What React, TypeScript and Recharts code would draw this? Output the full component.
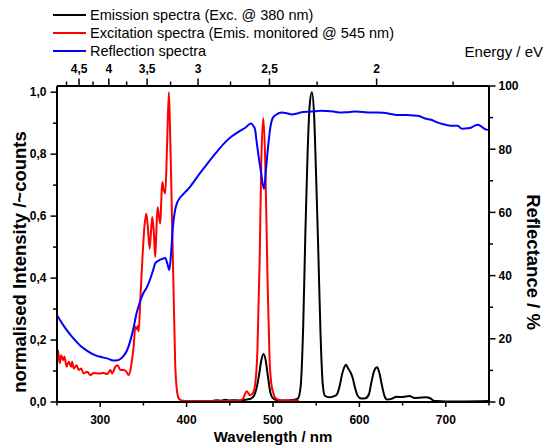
import React from 'react';
import { LineChart, Line, XAxis, YAxis } from 'recharts';

const FONT = '"Liberation Sans", Arial, Helvetica, sans-serif';
const EV_NM = 1239.84;

// ---- tick values ----
const WAVELENGTH_TICKS = [250, 300, 350, 400, 450, 500, 550, 600, 650, 700, 750];
const INTENSITY_TICKS = [0, 0.1, 0.2, 0.3, 0.4, 0.5, 0.6, 0.7, 0.8, 0.9, 1.0];
const REFLECTANCE_TICKS = [0, 10, 20, 30, 40, 50, 60, 70, 80, 90, 100];
const ENERGY_TICKS = [4.75, 4.5, 4.25, 4, 3.75, 3.5, 3.25, 3, 2.75, 2.5, 2.25, 2, 1.75];

// ---- series: [wavelength nm, value] ----
const emission: [number, number][] = [
  [430, 0.003], [435, 0.006], [440, 0.004], [445, 0.007], [450, 0.005], [455, 0.006],
  [460, 0.005], [465, 0.006], [470, 0.008], [475, 0.012], [478, 0.02], [481, 0.045],
  [484, 0.09], [486.5, 0.135], [489, 0.155], [491.5, 0.135], [494, 0.085], [497, 0.03],
  [500, 0.012], [505, 0.006], [515, 0.005], [525, 0.007], [529, 0.012], [532, 0.05],
  [535, 0.25], [537.5, 0.55], [540, 0.8], [542.5, 0.96], [545, 1.0], [547.5, 0.93],
  [550, 0.72], [552.3, 0.5], [555, 0.22], [557.5, 0.06], [560, 0.02], [565, 0.015],
  [570, 0.018], [574, 0.025], [577, 0.05], [580, 0.09], [583, 0.115], [584.5, 0.12],
  [587, 0.108], [589.5, 0.097], [592, 0.08], [595, 0.045], [598, 0.02], [602, 0.011],
  [607, 0.012], [611, 0.025], [614, 0.065], [617, 0.1], [620.5, 0.112], [623, 0.095],
  [626, 0.055], [629, 0.02], [632, 0.008], [637, 0.01], [643, 0.017], [650, 0.016],
  [658, 0.019], [664, 0.013], [670, 0.014], [677, 0.015], [682, 0.012], [686, 0.004],
  [690, 0.003], [700, 0.002], [720, 0.002], [750, 0.003],
];

const excitation: [number, number][] = [
  [250, 0.114], [251, 0.168], [253.3, 0.125], [254.8, 0.151], [257.1, 0.135], [258.7, 0.146],
  [261, 0.114], [263.7, 0.13], [266.4, 0.114], [267.5, 0.13], [269.4, 0.108], [272.5, 0.119],
  [275.2, 0.103], [277.9, 0.108], [281, 0.092], [284.9, 0.098], [288.7, 0.087], [292.5, 0.094],
  [298.3, 0.092], [304, 0.094], [308, 0.09], [311.8, 0.103], [313.7, 0.092], [317.6, 0.114],
  [320.2, 0.119], [323.3, 0.103], [327.1, 0.103], [330.3, 0.098], [332.9, 0.087], [335.7, 0.114],
  [337, 0.14], [338.7, 0.178], [340.6, 0.243], [342.5, 0.235], [343.5, 0.245], [344.5, 0.228],
  [346.4, 0.33], [349, 0.47], [351, 0.56], [353.3, 0.608], [355, 0.57], [357.2, 0.495],
  [358.8, 0.55], [360.3, 0.597], [362, 0.55], [363.7, 0.468], [365, 0.55], [366.4, 0.629],
  [368, 0.6], [369.5, 0.576], [370.7, 0.65], [371.8, 0.71], [373.5, 0.685], [375.3, 0.673],
  [377.3, 0.82], [379.5, 1.0], [381, 0.86], [383, 0.607], [385, 0.35], [386.8, 0.125],
  [388.5, 0.045], [390.7, 0.013], [393, 0.006], [396, 0.004], [400, 0.003], [420, 0.003],
  [440, 0.003], [460, 0.004], [465, 0.01], [469.6, 0.035], [473.4, 0.022], [477, 0.03],
  [479.5, 0.06], [482, 0.17], [484.5, 0.45], [486.5, 0.78], [488.8, 0.917], [491, 0.78],
  [493.5, 0.42], [496, 0.14], [498, 0.06], [500.3, 0.03], [503, 0.012], [508, 0.006],
  [515, 0.005], [530, 0.005],
];

const reflection: [number, number][] = [
  [250, 27.5], [254, 25.7], [258, 24], [262, 22.5], [270, 19.8], [277, 17.8], [285, 16.2],
  [292.5, 15], [300, 14.3], [308, 13.8], [315.6, 13.1], [320, 13.2], [323.3, 13.6],
  [327, 14.6], [331, 16.3], [335, 19.5], [338.7, 23.6], [342, 28], [346.4, 32], [350, 34.5],
  [354, 36.3], [358, 39], [361, 41.5], [363.7, 43.9], [368, 44.8], [372, 45.3], [375.3, 45.6],
  [378, 43.5], [380, 41.8], [382, 47], [384, 55], [386.5, 60.5], [389, 63], [392, 64.5],
  [397, 66], [404, 68.1], [413, 71.5], [423.4, 75.2], [433, 78.5], [442.6, 81.6], [452, 84],
  [461.8, 85.8], [468, 86.8], [474.2, 88.1], [477, 87.5], [479.2, 86.3], [481, 82.5],
  [483, 78.4], [486, 73], [489.6, 67.4], [492, 74], [494.6, 81.6], [497, 87], [499.6, 89.8],
  [504, 91], [510, 91.6], [516, 91.4], [521.6, 91], [528, 91.3], [535, 91.8], [545, 91.9],
  [555, 92.2], [562, 92.1], [570, 91.9], [578, 91.6], [585, 91.7], [595, 91.9], [604, 91.8],
  [612, 91.6], [620, 91.6], [628, 91.5], [635, 91.2], [641, 90.9], [647, 90.8], [655, 90.8],
  [662, 90.7], [669, 90.5], [676, 89.7], [683, 89.3], [690, 88.5], [696, 88], [702, 87.6],
  [708, 87.4], [714, 87.4], [717, 86.7], [720, 86.5], [725, 86.6], [729, 86.8], [733, 87.4],
  [737, 87.7], [741, 87.2], [744, 86.6], [747, 86.2], [750, 86.1],
];

const toRows = (pts: [number, number][]) => pts.map(([nm, v]) => ({ nm, v }));
const emissionRows = toRows(emission);
const excitationRows = toRows(excitation);
const reflectionRows = toRows(reflection);
const energyTickNm = ENERGY_TICKS.map((e) => EV_NM / e);

const labelStyle = {
  fontFamily: FONT,
  fontWeight: 'bold' as const,
  fontSize: 12,
  fill: '#000',
};

const BottomTick = (props: any) => {
  const { x, y, payload } = props;
  const v = payload.value;
  const major = v % 100 === 0;
  return (
    <g>
      <line x1={x} y1={y} x2={x} y2={y + (major ? 5 : 3.5)} stroke="#000" strokeWidth={1.5} />
      {major && (
        <text x={x} y={y + 21.5} textAnchor="middle" {...labelStyle}>
          {v}
        </text>
      )}
    </g>
  );
};

const TopTick = (props: any) => {
  const { x, y, payload } = props;
  const e = EV_NM / payload.value;
  const q = Math.round(e * 4);
  const major = q % 2 === 0;
  const label = String(q / 4).replace('.', ',');
  return (
    <g>
      <line x1={x} y1={y} x2={x} y2={y - (major ? 7.5 : 4.5)} stroke="#000" strokeWidth={1.5} />
      {major && (
        <text x={x} y={y - 13.5} textAnchor="middle" {...labelStyle}>
          {label}
        </text>
      )}
    </g>
  );
};

const LeftTick = (props: any) => {
  const { x, y, payload } = props;
  const k = Math.round(payload.value * 10);
  const major = k % 2 === 0;
  return (
    <g>
      <line x1={x} y1={y} x2={x - (major ? 6.5 : 4)} y2={y} stroke="#000" strokeWidth={1.5} />
      {major && (
        <text x={x - 10.5} y={y + 4.3} textAnchor="end" {...labelStyle}>
          {(k / 10).toFixed(1).replace('.', ',')}
        </text>
      )}
    </g>
  );
};

const RightTick = (props: any) => {
  const { x, y, payload } = props;
  const k = Math.round(payload.value / 10);
  const major = k % 2 === 0;
  return (
    <g>
      <line x1={x} y1={y} x2={x + (major ? 6.5 : 4)} y2={y} stroke="#000" strokeWidth={1.5} />
      {major && (
        <text x={x + 9.5} y={y + 4.3} textAnchor="start" {...labelStyle}>
          {payload.value}
        </text>
      )}
    </g>
  );
};

const axisLine = { stroke: '#000', strokeWidth: 2 };

const legendItems = [
  { color: '#000000', text: 'Emission spectra (Exc. @ 380 nm)', y: 15 },
  { color: '#ff0000', text: 'Excitation spectra (Emis. monitored @ 545 nm)', y: 33 },
  { color: '#0000ff', text: 'Reflection spectra', y: 51 },
];

export default function App() {
  return (
    <div style={{ position: 'absolute', left: 0, top: 0, width: 544, height: 445, background: '#fff' }}>
      <LineChart width={544} height={445} margin={{ top: 0, right: 0, bottom: 0, left: 0 }}>
        <XAxis
          xAxisId="b"
          dataKey="nm"
          type="number"
          domain={[250, 750]}
          ticks={WAVELENGTH_TICKS}
          interval={0}
          orientation="bottom"
          height={43}
          tickSize={0}
          tickMargin={0}
          tickLine={false}
          axisLine={axisLine}
          tick={<BottomTick />}
          allowDataOverflow
        />
        <XAxis
          xAxisId="t"
          dataKey="nm"
          type="number"
          domain={[250, 750]}
          ticks={energyTickNm}
          interval={0}
          orientation="top"
          height={86}
          tickSize={0}
          tickMargin={0}
          tickLine={false}
          axisLine={axisLine}
          tick={<TopTick />}
          allowDataOverflow
        />
        <YAxis
          yAxisId="l"
          type="number"
          domain={[0, 1.02]}
          ticks={INTENSITY_TICKS}
          interval={0}
          width={57}
          tickSize={0}
          tickMargin={0}
          tickLine={false}
          axisLine={axisLine}
          tick={<LeftTick />}
          allowDataOverflow
        />
        <YAxis
          yAxisId="r"
          orientation="right"
          type="number"
          domain={[0, 100]}
          ticks={REFLECTANCE_TICKS}
          interval={0}
          width={55}
          tickSize={0}
          tickMargin={0}
          tickLine={false}
          axisLine={axisLine}
          tick={<RightTick />}
          allowDataOverflow
        />
        <Line
          xAxisId="b"
          yAxisId="l"
          data={emissionRows}
          dataKey="v"
          type="monotone"
          stroke="#000000"
          strokeWidth={2}
          dot={false}
          isAnimationActive={false}
        />
        <Line
          xAxisId="b"
          yAxisId="l"
          data={excitationRows}
          dataKey="v"
          type="monotone"
          stroke="#ff0000"
          strokeWidth={2}
          dot={false}
          isAnimationActive={false}
        />
        <Line
          xAxisId="b"
          yAxisId="r"
          data={reflectionRows}
          dataKey="v"
          type="monotone"
          stroke="#0000ff"
          strokeWidth={2}
          dot={false}
          isAnimationActive={false}
        />
        <Line
          xAxisId="t"
          yAxisId="l"
          data={emissionRows}
          dataKey="v"
          type="monotone"
          stroke="none"
          strokeWidth={0}
          dot={false}
          legendType="none"
          isAnimationActive={false}
        />
      </LineChart>
      <svg
        width={544}
        height={445}
        style={{ position: 'absolute', left: 0, top: 0, pointerEvents: 'none' }}
      >
        {legendItems.map((it) => (
          <g key={it.text}>
            <line x1={53} y1={it.y} x2={86} y2={it.y} stroke={it.color} strokeWidth={2} />
            <text x={90} y={it.y} dominantBaseline="central" fontFamily={FONT} fontSize={14.5} fill="#000">
              {it.text}
            </text>
          </g>
        ))}
        <text x={543} y={51} textAnchor="end" dominantBaseline="central" fontFamily={FONT} fontSize={15} fill="#000">
          Energy / eV
        </text>
        <text x={273} y={442} textAnchor="middle" fontFamily={FONT} fontWeight="bold" fontSize={15} fill="#000">
          Wavelength / nm
        </text>
        <text
          x={19}
          y={262}
          transform="rotate(-90 19 262)"
          textAnchor="middle"
          dominantBaseline="central"
          fontFamily={FONT}
          fontWeight="bold"
          fontSize={18.5}
          fill="#000"
        >
          normalised Intensity /~counts
        </text>
        <text
          x={533}
          y={262}
          transform="rotate(90 533 262)"
          textAnchor="middle"
          dominantBaseline="central"
          fontFamily={FONT}
          fontWeight="bold"
          fontSize={18.5}
          fill="#000"
        >
          Reflectance / %
        </text>
      </svg>
    </div>
  );
}
